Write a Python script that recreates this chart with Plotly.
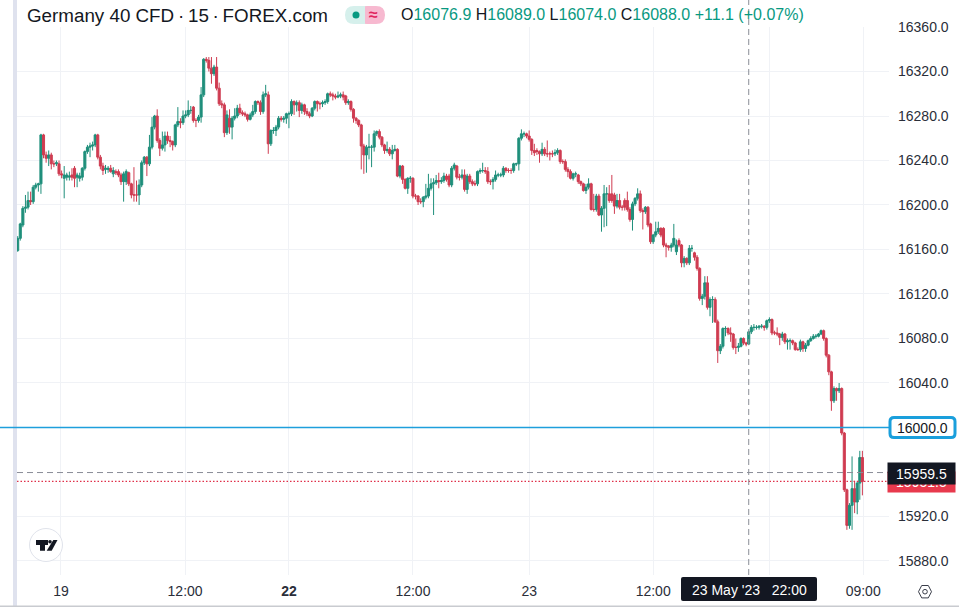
import plotly.graph_objects as go

O = [16159,16170,16182,16197,16198,16204,16203,16216,16218,16219,
16263,16245,16242,16245,16237,16237,16237,16228,16224,16225,
16225,16227,16233,16225,16224,16225,16233,16248,16252,16253,
16254,16263,16243,16235,16232,16232,16233,16228,16230,16230,
16227,16221,16221,16229,16219,16209,16209,16209,16218,16238,
16243,16237,16252,16270,16280,16258,16251,16254,16262,16258,
16257,16254,16272,16275,16274,16280,16281,16285,16288,16276,
16276,16279,16299,16331,16330,16323,16318,16324,16305,16291,
16290,16265,16278,16270,16278,16280,16287,16283,16282,16281,
16277,16281,16284,16293,16292,16284,16299,16299,16255,16267,
16267,16270,16278,16277,16278,16282,16282,16293,16290,16292,
16285,16290,16284,16282,16280,16287,16293,16291,16291,16292,
16293,16300,16299,16298,16297,16298,16299,16298,16292,16293,
16286,16278,16276,16272,16253,16245,16252,16252,16252,16264,
16266,16261,16254,16249,16250,16246,16249,16250,16226,16235,
16223,16215,16224,16224,16208,16208,16203,16203,16207,16208,
16215,16219,16220,16222,16221,16222,16226,16226,16218,16233,
16235,16225,16225,16227,16214,16226,16221,16219,16219,16230,
16231,16231,16230,16221,16221,16223,16227,16227,16227,16233,
16231,16231,16231,16237,16237,16260,16264,16264,16262,16259,
16249,16249,16248,16246,16250,16246,16246,16246,16246,16247,
16249,16239,16239,16232,16230,16224,16228,16227,16221,16219,
16213,16216,16219,16196,16196,16208,16191,16197,16210,16210,
16210,16209,16199,16204,16198,16204,16204,16196,16187,16201,
16206,16210,16195,16194,16198,16183,16167,16173,16176,16179,
16179,16164,16163,16162,16164,16158,16168,16164,16148,16152,
16148,16161,16157,16153,16143,16116,16118,16130,16108,16115,
16115,16095,16069,16073,16089,16089,16085,16084,16072,16072,
16073,16080,16076,16075,16086,16090,16090,16090,16091,16091,
16090,16096,16097,16085,16085,16084,16081,16084,16077,16078,
16078,16076,16070,16070,16077,16071,16074,16078,16080,16082,
16082,16084,16087,16080,16065,16050,16024,16035,16033,16035,
15995,15944,15912,15930,15945,15933,15950,15973]

H = [16172,16184,16199,16209,16212,16212,16218,16220,16220,16264,
16264,16248,16249,16247,16240,16240,16240,16231,16235,16229,
16230,16233,16235,16229,16229,16234,16249,16254,16256,16257,
16264,16264,16245,16238,16236,16235,16236,16234,16232,16232,
16229,16230,16232,16230,16220,16234,16222,16223,16240,16244,
16244,16263,16279,16281,16286,16260,16266,16266,16266,16262,
16258,16273,16288,16278,16285,16285,16294,16289,16289,16278,
16281,16306,16332,16333,16333,16333,16326,16333,16310,16294,
16292,16285,16286,16280,16287,16290,16291,16285,16284,16282,
16283,16290,16294,16294,16294,16302,16308,16302,16268,16270,
16272,16280,16280,16280,16283,16284,16295,16294,16294,16294,
16292,16291,16287,16284,16288,16294,16294,16293,16294,16295,
16301,16302,16301,16300,16302,16301,16302,16299,16295,16294,
16287,16279,16277,16273,16255,16254,16264,16254,16267,16267,
16268,16262,16255,16257,16252,16254,16254,16251,16236,16236,
16224,16225,16226,16225,16210,16209,16206,16208,16219,16228,
16224,16224,16227,16229,16225,16229,16228,16228,16235,16238,
16236,16228,16232,16232,16228,16228,16223,16222,16231,16233,
16238,16234,16234,16223,16225,16231,16229,16229,16235,16234,
16233,16233,16238,16238,16261,16268,16266,16265,16267,16260,
16255,16251,16249,16256,16252,16258,16248,16249,16250,16251,
16250,16241,16241,16234,16232,16229,16230,16228,16222,16220,
16219,16224,16220,16210,16210,16210,16199,16218,16216,16218,
16227,16211,16210,16210,16200,16206,16212,16198,16203,16207,
16215,16213,16197,16199,16199,16184,16174,16185,16185,16180,
16180,16166,16164,16166,16183,16169,16170,16165,16154,16153,
16164,16164,16158,16155,16144,16120,16136,16136,16117,16118,
16117,16097,16075,16090,16091,16090,16090,16085,16080,16076,
16081,16081,16077,16087,16092,16093,16092,16092,16093,16092,
16097,16099,16098,16087,16090,16085,16086,16085,16080,16080,
16079,16077,16072,16079,16078,16076,16079,16082,16084,16084,
16085,16088,16088,16081,16066,16051,16037,16036,16040,16036,
15996,15945,15932,15974,15952,15952,15979,15979]

L = [16158,16168,16180,16193,16196,16200,16201,16214,16212,16210,
16242,16238,16235,16232,16234,16235,16226,16224,16206,16222,
16222,16222,16216,16216,16221,16222,16231,16246,16243,16249,
16252,16241,16232,16227,16228,16229,16229,16225,16227,16225,
16218,16203,16218,16217,16206,16203,16203,16200,16216,16236,
16226,16235,16250,16268,16256,16244,16249,16248,16255,16252,
16249,16252,16270,16269,16272,16278,16279,16282,16274,16270,
16274,16274,16297,16328,16320,16309,16316,16303,16289,16287,
16261,16263,16264,16259,16276,16278,16281,16280,16279,16275,
16276,16279,16282,16290,16281,16282,16297,16246,16253,16264,
16262,16268,16275,16274,16273,16269,16280,16281,16284,16279,
16282,16281,16280,16278,16279,16285,16284,16286,16288,16290,
16291,16297,16294,16295,16296,16296,16294,16290,16290,16284,
16274,16273,16270,16232,16228,16229,16241,16234,16248,16262,
16259,16252,16246,16247,16244,16241,16248,16225,16224,16219,
16214,16210,16220,16206,16205,16200,16201,16198,16205,16206,
16213,16191,16218,16215,16219,16220,16221,16216,16216,16231,
16223,16222,16223,16212,16210,16219,16217,16217,16217,16228,
16229,16228,16219,16218,16214,16221,16225,16225,16225,16229,
16229,16228,16229,16235,16231,16258,16261,16260,16257,16245,
16244,16245,16238,16244,16244,16243,16240,16243,16244,16245,
16237,16237,16230,16225,16223,16222,16225,16219,16217,16212,
16210,16214,16195,16194,16194,16190,16176,16180,16181,16202,
16202,16192,16197,16196,16195,16195,16194,16185,16177,16199,
16204,16193,16178,16192,16180,16165,16165,16171,16174,16171,
16162,16153,16159,16158,16162,16155,16162,16144,16144,16146,
16146,16158,16150,16141,16114,16110,16115,16106,16100,16094,
16094,16058,16066,16071,16082,16083,16077,16070,16066,16068,
16072,16074,16073,16074,16084,16087,16088,16088,16089,16087,
16088,16094,16083,16083,16082,16074,16078,16075,16070,16070,
16074,16069,16069,16068,16068,16068,16073,16077,16079,16080,
16081,16083,16078,16063,16047,16015,16022,16024,16031,15993,
15942,15908,15909,15908,15923,15922,15935,15939]

C = [16170,16183,16197,16198,16204,16203,16216,16218,16219,16263,
16245,16242,16245,16237,16237,16238,16228,16227,16227,16227,
16226,16225,16224,16227,16226,16233,16248,16252,16253,16254,
16263,16243,16235,16231,16233,16233,16230,16231,16229,16227,
16221,16228,16230,16219,16209,16209,16209,16218,16238,16243,
16237,16252,16270,16280,16258,16251,16254,16262,16258,16257,
16254,16272,16275,16274,16280,16281,16285,16285,16276,16276,
16279,16299,16331,16330,16323,16318,16324,16305,16291,16290,
16265,16281,16270,16278,16280,16287,16283,16282,16281,16277,
16281,16284,16293,16292,16284,16299,16300,16255,16267,16267,
16270,16278,16277,16278,16282,16282,16293,16290,16292,16285,
16290,16284,16282,16280,16287,16293,16291,16291,16292,16293,
16300,16299,16298,16297,16298,16299,16297,16292,16293,16286,
16278,16276,16272,16253,16245,16252,16252,16252,16264,16266,
16261,16254,16249,16250,16246,16249,16250,16226,16235,16223,
16215,16224,16224,16208,16208,16203,16203,16207,16208,16215,
16219,16220,16222,16221,16222,16226,16223,16218,16233,16236,
16225,16225,16227,16214,16226,16221,16219,16219,16230,16231,
16231,16230,16221,16221,16223,16227,16227,16227,16233,16231,
16231,16231,16237,16237,16260,16264,16264,16262,16259,16249,
16247,16248,16246,16250,16246,16246,16246,16246,16247,16249,
16239,16239,16232,16230,16224,16228,16228,16221,16219,16213,
16216,16219,16196,16196,16208,16191,16197,16210,16210,16204,
16204,16199,16204,16198,16198,16198,16196,16187,16201,16206,
16210,16195,16194,16198,16182,16167,16173,16176,16179,16173,
16164,16163,16162,16164,16170,16164,16164,16148,16152,16148,
16161,16161,16153,16143,16116,16118,16130,16108,16115,16115,
16095,16069,16073,16089,16089,16085,16084,16072,16072,16073,
16080,16076,16075,16086,16090,16090,16090,16091,16091,16090,
16096,16097,16085,16085,16084,16081,16084,16077,16078,16078,
16076,16070,16070,16077,16071,16074,16078,16080,16082,16082,
16084,16087,16080,16065,16050,16024,16035,16033,16035,15995,
15944,15912,15930,15945,15933,15950,15973,15951.5]

bars = list(range(len(C)))
assert len(O) == len(H) == len(L) == len(C)

price_ticks = [16360, 16320, 16280, 16240, 16200, 16160, 16120, 16080, 16040, 16000, 15920, 15880]
time_tick_bars = [16.76, 64.8, 105, 153, 198, 246, 291, 327.3]
time_tick_text = ["19", "12:00", "<b>22</b>", "12:00", "23", "12:00", "", "09:00"]
alert_price = 16000
cross_price = 15959.5
last_price = 15951.5
cross_bar = 283

UP, DOWN = "#1f8f7b", "#cf3c51"
INK = "#131722"
GRID = "#f0f2f6"
W, H_PX, L_PX, R_PX, T_PX, B_PX = 959, 607, 17, 889, 27, 575


def X(px):
    return (px - L_PX) / (R_PX - L_PX)


def Y(py):
    return 1 - (py - T_PX) / (B_PX - T_PX)


def rrect(x0, y0, x1, y1, r):
    return (f"M {X(x0+r)},{Y(y0)} L {X(x1-r)},{Y(y0)} Q {X(x1)},{Y(y0)} {X(x1)},{Y(y0+r)} "
            f"L {X(x1)},{Y(y1-r)} Q {X(x1)},{Y(y1)} {X(x1-r)},{Y(y1)} "
            f"L {X(x0+r)},{Y(y1)} Q {X(x0)},{Y(y1)} {X(x0)},{Y(y1-r)} "
            f"L {X(x0)},{Y(y0+r)} Q {X(x0)},{Y(y0)} {X(x0+r)},{Y(y0)} Z")


def poly(pts):
    return "M " + " L ".join(f"{X(a)},{Y(b)}" for a, b in pts) + " Z"


def pshape(path, fill=None, line=None, lw=0):
    return dict(type="path", xref="paper", yref="paper", path=path, fillcolor=fill or "rgba(0,0,0,0)",
                line=dict(color=line or "rgba(0,0,0,0)", width=lw), layer="above")


def circle(cx, cy, r, fill=None, line=None, lw=0):
    return dict(type="circle", xref="paper", yref="paper", x0=X(cx - r), x1=X(cx + r), y0=Y(cy + r), y1=Y(cy - r),
                fillcolor=fill or "rgba(0,0,0,0)", line=dict(color=line or "rgba(0,0,0,0)", width=lw), layer="above")


def note(px, py, text, size=14, color=INK, anchor="left", **kw):
    return dict(xref="paper", yref="paper", x=X(px), y=Y(py), text=text, showarrow=False, xanchor=anchor,
                yanchor="middle", font=dict(size=size, color=color, family="Liberation Sans, Arial, sans-serif"), **kw)


fig = go.Figure(go.Candlestick(
    x=bars, open=O, high=H, low=L, close=C, whiskerwidth=0,
    increasing=dict(line=dict(color=UP, width=1), fillcolor=UP),
    decreasing=dict(line=dict(color=DOWN, width=1), fillcolor=DOWN),
    showlegend=False, hoverinfo="skip",
))

shapes = [
    # left band and bottom edge
    dict(type="rect", xref="paper", yref="paper", x0=X(13), x1=X(17), y0=Y(0), y1=Y(607), fillcolor="#dfe2ee",
         line=dict(width=0), layer="above"),
    dict(type="rect", xref="paper", yref="paper", x0=X(0), x1=X(959), y0=Y(605.5), y1=Y(607), fillcolor="#c9cbd0",
         line=dict(width=0), layer="above"),
    # level lines
    dict(type="line", xref="paper", yref="y", x0=X(0), x1=1, y0=alert_price, y1=alert_price,
         line=dict(color="#1e9fdc", width=1.4), layer="above"),
    dict(type="line", xref="paper", yref="y", x0=0, x1=1, y0=last_price, y1=last_price,
         line=dict(color="#e0304a", width=1.3, dash="1.5px,2px"), layer="above"),
    dict(type="line", xref="paper", yref="y", x0=0, x1=1, y0=cross_price, y1=cross_price,
         line=dict(color="#8a8d97", width=1, dash="6px,4px"), layer="above"),
    dict(type="line", xref="x", yref="paper", x0=cross_bar, x1=cross_bar, y0=0, y1=Y(0),
         line=dict(color="#8a8d97", width=1, dash="6px,4px"), layer="above"),
    # status pill
    pshape(rrect(345, 6, 375, 24, 9), fill="#d6f0ec"),
    pshape(rrect(358, 6, 385, 24, 9), fill="#f7b9d0"),
    dict(type="rect", xref="paper", yref="paper", x0=X(358), x1=X(365), y0=Y(24), y1=Y(6), fillcolor="#d6f0ec",
         line=dict(width=0), layer="above"),
    circle(356, 15, 3.5, fill="#089981"),
    # crosshair time label
    pshape(rrect(681, 577, 817, 601, 2), fill=INK),
    # alert label
    pshape(rrect(890, 417.5, 955, 437.5, 4), fill="#ffffff", line="#1a9fdc", lw=3),
    # logo badge
    circle(46, 545, 16.5, fill="#ffffff", line="#e0e3eb", lw=1),
    pshape(poly([(36, 540), (48, 540), (48, 545), (45, 545), (45, 550.7), (40, 550.7), (40, 545), (36, 545)]), fill=INK),
    pshape(poly([(53.3, 540), (57.5, 540), (51.7, 550.7), (46.7, 550.7)]), fill=INK),
    circle(50, 541.8, 1.8, fill=INK),
    # settings gear
    pshape(poly([(918.5, 591.7), (921.7, 585.5), (928.3, 585.5), (931.5, 591.7), (928.3, 597.9), (921.7, 597.9)]),
           line="#3a3e4a", lw=1),
    circle(925, 591.7, 2.3, line="#3a3e4a", lw=1),
]

t = "color:#089981"
ohlc = (f'O<span style="{t}">16076.9</span> H<span style="{t}">16089.0</span> '
        f'L<span style="{t}">16074.0</span> C<span style="{t}">16088.0</span> '
        f'<span style="{t}">+11.1 (+0.07%)</span>')

annotations = [
    note(25, 16, "Germany 40 CFD\u2009·\u200915\u2009·\u2009FOREX.com", size=18.8),
    note(373.5, 15, "<b>≈</b>", size=16, color="#e0245e", anchor="center"),
    note(399, 15, ohlc, size=16),
    note(749, 589.5, "23 May '23   22:00", size=14, color="#ffffff", anchor="center"),
    note(922.5, 428, "16000.0", size=14, anchor="center"),
    note(921.5, 482, "15951.5", size=14, color="#ffffff", anchor="center", bgcolor="#e8394d", width=65, height=18),
    note(921.5, 473, "15959.5", size=14, color="#ffffff", anchor="center", bgcolor=INK, width=65, height=19),
]

fig.update_layout(
    width=W, height=H_PX, autosize=False,
    margin=dict(l=L_PX, r=W - R_PX, t=T_PX, b=H_PX - B_PX, pad=0, autoexpand=False),
    paper_bgcolor="#ffffff", plot_bgcolor="#ffffff",
    font=dict(family="Liberation Sans, Arial, sans-serif", size=14, color=INK),
    hovermode=False, dragmode=False, boxgap=0.2, boxgroupgap=0,
    shapes=shapes, annotations=annotations,
    xaxis=dict(range=[-0.27, 337.3], tickmode="array", tickvals=time_tick_bars, ticktext=time_tick_text,
               tickangle=0, showgrid=True, gridcolor=GRID, gridwidth=1, zeroline=False, showline=False,
               ticks="", rangeslider=dict(visible=False), ticklabelstandoff=6,
               tickfont=dict(size=14, color="#2a2e39")),
    yaxis=dict(range=[15867.4, 16360], side="right", tickmode="array", tickvals=price_ticks, tickformat=".1f",
               showgrid=True, gridcolor=GRID, gridwidth=1, zeroline=False, showline=False, ticks="",
               ticklabelstandoff=8, tickfont=dict(size=14, color="#2a2e39")),
)

fig.write_html("out.html", config=dict(displayModeBar=False),
               post_script="document.body.style.margin='0';")
